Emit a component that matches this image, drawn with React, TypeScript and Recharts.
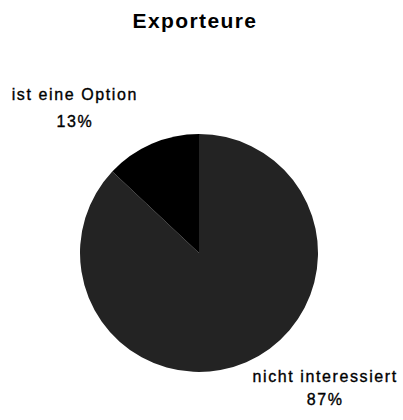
import { PieChart, Pie, Cell } from "recharts";

const categories = ["nicht interessiert", "ist eine Option"];
const shares = [87, 13];
const colors = ["#232323", "#000000"];

const data = categories.map((name, i) => ({ name, value: shares[i] }));

const RAD = Math.PI / 180;

// label sits outside the slice, pushed sideways like the original
const renderLabel = (props: any) => {
  const { cx, cy, midAngle, outerRadius, name, percent } = props;
  const cos = Math.cos(-midAngle * RAD);
  const sin = Math.sin(-midAngle * RAD);
  const upper = sin < 0;
  const r = outerRadius + (upper ? 40 : 30);
  const x = cx + r * cos + (cos < 0 ? -61 : 67);
  const y = cy + r * sin;
  return (
    <text
      x={x}
      y={y}
      textAnchor="middle"
      fill="#000"
      stroke="#000"
      strokeWidth={0.35}
      fontFamily="'Liberation Sans', Arial, sans-serif"
      fontSize={16}
      letterSpacing={1.6}
    >
      <tspan x={x} dy={upper ? -7 : -8}>{name}</tspan>
      <tspan x={x} dy={upper ? 27 : 23}>{`${Math.round(percent * 100)}%`}</tspan>
    </text>
  );
};

export default function App() {
  return (
    <div style={{ position: "absolute", left: 0, top: 0, width: 403, height: 420, background: "#fff" }}>
      <div
        style={{
          position: "absolute",
          left: 0,
          top: 9,
          width: 390,
          textAlign: "center",
          fontFamily: "'Liberation Sans', Arial, sans-serif",
          fontWeight: "bold",
          fontSize: 21,
          letterSpacing: 1.4,
          color: "#000",
        }}
      >
        Exporteure
      </div>
      <PieChart width={403} height={420} margin={{ top: 0, right: 0, bottom: 0, left: 0 }}>
        <Pie
          data={data}
          dataKey="value"
          nameKey="name"
          cx={199}
          cy={253}
          outerRadius={119}
          startAngle={90}
          endAngle={-270}
          stroke="none"
          label={renderLabel}
          labelLine={false}
          isAnimationActive={false}
        >
          {data.map((entry, i) => (
            <Cell key={entry.name} fill={colors[i]} />
          ))}
        </Pie>
      </PieChart>
    </div>
  );
}
